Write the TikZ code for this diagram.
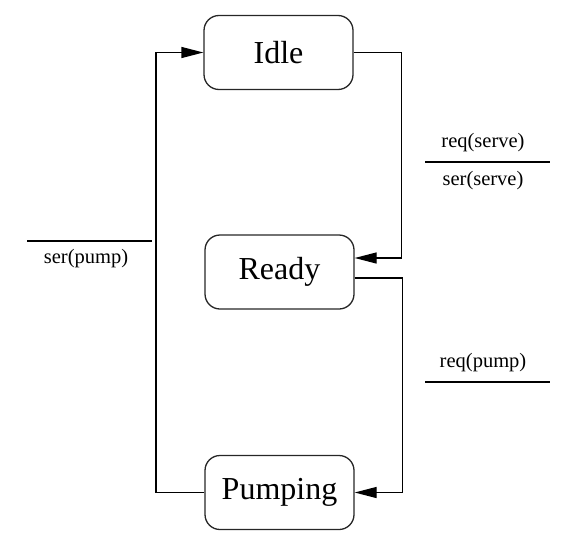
\documentclass[tikz,border=0pt]{standalone}
\usepackage{fontspec}
\setmainfont{Liberation Serif}
\usetikzlibrary{arrows.meta}
\begin{document}
\begin{tikzpicture}[x=1pt,y=-1pt,
  state/.style={draw=black!85,line width=1.3pt,rounded corners=15pt,
    minimum width=149pt,minimum height=74pt,inner sep=0pt,
    font=\fontsize{32}{37}\selectfont},
  trans/.style={line width=1.3pt,-{Triangle[length=22pt,width=11pt]}},
  guard/.style={font=\fontsize{20.5}{24}\selectfont,inner sep=0pt},
  bar/.style={line width=1.3pt}]
\useasboundingbox (0,0) rectangle (561,533);

% states
\node[state] (idle)    at (278.5,52.5) {Idle};
\node[state] (ready)   at (279.5,272)  {Ready};
\node[state] (pumping) at (279.5,492.5) {Pumping};

% transitions
\draw[trans] (idle.east) -- ++(48,0) |- ([yshift=14pt]ready.east);
\draw[trans] ([yshift=-6pt]ready.east) -- ++(48,0) |- (pumping.east);
\draw[trans] (pumping.west) -- ++(-48.5,0) |- (idle.west);

% guard / action labels
\coordinate (s1) at (425,162); \coordinate (s2) at (550,162);
\draw[bar] (s1) -- (s2);
\node[guard] (reqserve) at (483,143) {req(serve)};
\node[guard] (serserve) at (483,181) {ser(serve)};

\coordinate (p1) at (425,382); \coordinate (p2) at (550,382);
\draw[bar] (p1) -- (p2);
\node[guard] (reqpump) at (483,363) {req(pump)};

\coordinate (l1) at (27,241); \coordinate (l2) at (152,241);
\draw[bar] (l1) -- (l2);
\node[guard] (serpump) at (86,259) {ser(pump)};
\end{tikzpicture}
\end{document}
